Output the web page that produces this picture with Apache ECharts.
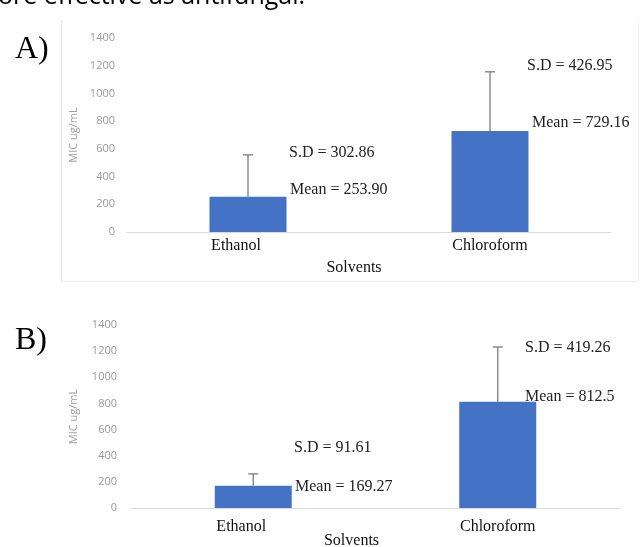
<!DOCTYPE html>
<html>
<head>
<meta charset="utf-8">
<script src="https://cdn.jsdelivr.net/npm/echarts@6/dist/echarts.min.js"></script>
<style>
html,body{margin:0;padding:0;background:#fff;}
#chart{width:641px;height:547px;}
</style>
</head>
<body>
<div id="chart"></div>
<script>
// ---- data ----
const categories = ['Ethanol', 'Chloroform'];
const meanA = [253.90, 729.16];
const sdA = [302.86, 426.95];
const meanB = [169.27, 812.5];
const sdB = [91.61, 419.26];
const yMin = 0, yMax = 1400, yStep = 200;
const sdLabelsA = ['S.D = 302.86', 'S.D = 426.95'];
const meanLabelsA = ['Mean = 253.90', 'Mean = 729.16'];
const sdLabelsB = ['S.D = 91.61', 'S.D = 419.26'];
const meanLabelsB = ['Mean = 169.27', 'Mean = 812.5'];
const panelTitles = ['A)', 'B)'];
const xName = 'Solvents';
const yName = 'MIC ug/mL';
const headerText = 'ore effective as antifungal.';

const serif = '"Liberation Serif","Times New Roman",serif';
const sans = '"Open Sans","Liberation Sans",sans-serif';
const barColor = '#4472C4';
const errColor = '#8c8c8c';

function errData(mean, sd) {
  return mean.map((m, i) => [i, m, m + sd[i]]);
}
function errRender(params, api) {
  const base = api.coord([api.value(0), api.value(1)]);
  const top = api.coord([api.value(0), api.value(2)]);
  const w = 5;
  return {
    type: 'group',
    children: [
      { type: 'line', shape: { x1: base[0], y1: base[1], x2: top[0], y2: top[1] },
        style: { stroke: errColor, lineWidth: 1.5 } },
      { type: 'line', shape: { x1: top[0] - w, y1: top[1], x2: top[0] + w, y2: top[1] },
        style: { stroke: errColor, lineWidth: 1.5 } }
    ]
  };
}

function xAxisCfg(gridIndex, labelMargin, nameGap, nameShift) {
  return {
    type: 'category', gridIndex, data: categories,
    axisTick: { show: false },
    axisLine: { lineStyle: { color: '#d9d9d9', width: 1 } },
    axisLabel: {
      color: '#111', fontFamily: serif, fontSize: 16, margin: labelMargin,
      formatter: (v, i) => i === 0 ? '{l|' + v + '}' : v,
      rich: { l: { color: '#111', fontFamily: serif, fontSize: 16, padding: [0, 24, 0, 0] } }
    },
    name: xName, nameLocation: 'middle', nameGap, nameMoveOverlap: false,
    nameTextStyle: { color: '#111', fontFamily: serif, fontSize: 16, padding: [0, nameShift, 0, 0] }
  };
}
function yAxisCfg(gridIndex, margin, gap) {
  return {
    type: 'value', gridIndex, min: yMin, max: yMax, interval: yStep,
    axisLine: { show: false }, axisTick: { show: false },
    splitLine: { show: false },
    axisLabel: { color: '#9a9a9a', fontFamily: sans, fontSize: 11, margin,
      formatter: v => String(v) },
    name: yName, nameLocation: 'middle', nameGap: gap, nameMoveOverlap: false,
    nameTextStyle: { color: '#a0a0a0', fontFamily: sans, fontSize: 11 }
  };
}

const chart = echarts.init(document.getElementById('chart'), null, { renderer: 'canvas' });

const annoStyle = { fill: '#222', font: '16px ' + serif };
function txt(x, y, t, style) {
  return { type: 'text', left: x, top: y, style: Object.assign({ text: t }, style), z: 10 };
}

const option = {
  animation: false,
  backgroundColor: '#fff',
  grid: [
    { left: 127, top: 38, width: 484, height: 194, outerBoundsMode: 'none', containLabel: false },
    { left: 131, top: 325, width: 489, height: 183, outerBoundsMode: 'none', containLabel: false }
  ],
  xAxis: [xAxisCfg(0, 6, 28, 30), xAxisCfg(1, 11, 25, 48)],
  yAxis: [yAxisCfg(0, 12, 48), yAxisCfg(1, 14, 52)],
  series: [
    { type: 'bar', xAxisIndex: 0, yAxisIndex: 0, data: meanA, barWidth: 77,
      itemStyle: { color: barColor } },
    { type: 'custom', xAxisIndex: 0, yAxisIndex: 0, data: errData(meanA, sdA),
      renderItem: errRender, z: 5 },
    { type: 'bar', xAxisIndex: 1, yAxisIndex: 1, data: meanB, barWidth: 77,
      itemStyle: { color: barColor } },
    { type: 'custom', xAxisIndex: 1, yAxisIndex: 1, data: errData(meanB, sdB),
      renderItem: errRender, z: 5 }
  ],
  graphic: [
    { type: 'line', shape: { x1: 61.5, y1: 20, x2: 61.5, y2: 281 }, style: { stroke: '#e6e6e6', lineWidth: 1.5 } },
    { type: 'line', shape: { x1: 61, y1: 281.5, x2: 638, y2: 281.5 }, style: { stroke: '#eeeeee', lineWidth: 1.5 } },
    { type: 'line', shape: { x1: 638.5, y1: 20, x2: 638.5, y2: 281 }, style: { stroke: '#f2f2f2', lineWidth: 1 } },
    { type: 'text', left: -2, top: -16, style: { text: headerText, fill: '#000', font: '25px ' + sans } },
    { type: 'text', left: 15, top: 34, style: { text: panelTitles[0], fill: '#000', font: '32px ' + serif } },
    { type: 'text', left: 15, top: 325, style: { text: panelTitles[1], fill: '#000', font: '32px ' + serif } },
    txt(289, 145, sdLabelsA[0], annoStyle),
    txt(290, 182, meanLabelsA[0], annoStyle),
    txt(527, 58, sdLabelsA[1], annoStyle),
    txt(532, 115, meanLabelsA[1], annoStyle),
    txt(294, 440, sdLabelsB[0], annoStyle),
    txt(295, 479, meanLabelsB[0], annoStyle),
    txt(525, 340, sdLabelsB[1], annoStyle),
    txt(525, 389, meanLabelsB[1], annoStyle)
  ]
};
chart.setOption(option);
</script>
</body>
</html>
